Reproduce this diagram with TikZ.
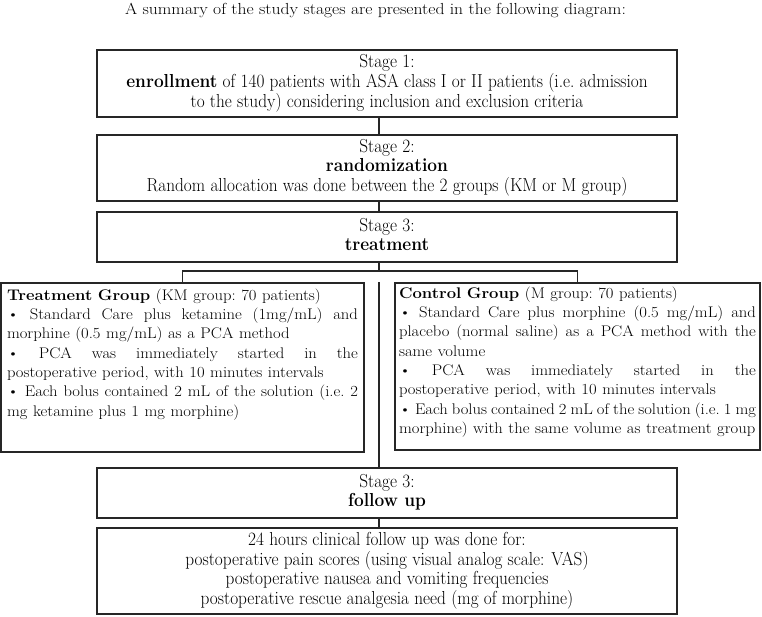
\documentclass[tikz,border=0pt]{standalone}
\usepackage{graphicx}
\usetikzlibrary{positioning}
\newcommand{\narrowlines}[1]{\scalebox{0.92}[1]{\begin{tabular}{@{}c@{}}#1\end{tabular}}}
\newcommand{\groupbox}[3]{\scalebox{1.08}[1]{\parbox[t][#2][t]{#1}{\fontsize{15.4}{19.3}\selectfont
  \parindent=0pt\frenchspacing\spaceskip=.3333em plus .6em minus .16em\relax #3}}}
\tikzset{
  stagebox/.style={draw=black!85,line width=1.6pt,inner sep=0pt,minimum width=580,
    font=\fontsize{18.8}{19.5}\selectfont},
  link/.style={draw=black!85,line width=1.2pt}
}
\begin{document}
\begin{tikzpicture}[x=1pt,y=-1pt]
  \useasboundingbox (0,0) rectangle (762,616);
  \node[anchor=base,inner sep=0pt] (title) at (375.5,14) {\fontsize{16}{18}\selectfont\scalebox{1.1}[1]{A summary of the study stages are presented in the following diagram:}};
  \begin{scope}[every node/.style={stagebox}]
    \node[minimum height=67] (s1) at (387,83.5) {\narrowlines{Stage 1:\\
      \textbf{enrollment} of 140 patients with ASA class I or II patients (i.e.\ admission\\
      to the study) considering inclusion and exclusion criteria}};
    \node[minimum height=66] (s2) at (387,168) {\narrowlines{Stage 2:\\
      \textbf{randomization}\\
      Random allocation was done between the 2 groups (KM or M group)}};
    \node[minimum height=50] (s3) at (387,237) {\narrowlines{Stage 3:\\ \textbf{treatment}}};
    \node[minimum height=50] (fu) at (387,493) {\narrowlines{Stage 3:\\ \textbf{follow up}}};
    \node[minimum height=86] (vas) at (387,571) {\narrowlines{24 hours clinical follow up was done for:\\
      postoperative pain scores (using visual analog scale: VAS)\\
      postoperative nausea and vomiting frequencies\\
      postoperative rescue analgesia need (mg of morphine)}};
  \end{scope}
  \begin{scope}[every node/.style={draw=black!85,line width=1.6pt,anchor=north}]
    \node[inner sep=6pt] (tg) at (182.5,282) {\groupbox{325pt}{157pt}{%
      \textbf{Treatment Group} (KM group: 70 patients)\par
      \textbullet{} Standard Care plus ketamine (1mg/mL) and\linebreak
      morphine (0.5 mg/mL) as a PCA method\par
      \textbullet{} PCA was immediately started in the\linebreak
      postoperative period, with 10 minutes intervals\par
      \textbullet{} Each bolus contained 2 mL of the solution (i.e. 2\linebreak
      mg ketamine plus 1 mg morphine)}};
    \node[inner sep=4pt] (cg) at (577.5,282) {\groupbox{330.5pt}{159pt}{%
      \textbf{Control Group} (M group: 70 patients)\par
      \textbullet{} Standard Care plus morphine (0.5 mg/mL) and\linebreak
      placebo (normal saline) as a PCA method with the\linebreak
      same volume\par
      \textbullet{} PCA was immediately started in the\linebreak
      postoperative period, with 10 minutes intervals\par
      \textbullet{} Each bolus contained 2 mL of the solution (i.e. 1 mg\linebreak
      morphine) with the same volume as treatment group}};
  \end{scope}
  \coordinate (spine) at (379,0);
  \coordinate (fork) at (379,271);
  \path[link]
    (s1.south -| spine) edge (s2.north -| spine)
    (s2.south -| spine) edge (s3.north -| spine)
    (s3.south -| spine) edge (fork)
    (tg.north -| spine) edge (fu.north -| spine)
    (fu.south -| spine) edge (vas.north -| spine);
  \draw[link] (tg.north) |- (fork) -| (cg.north);
\end{tikzpicture}
\end{document}
